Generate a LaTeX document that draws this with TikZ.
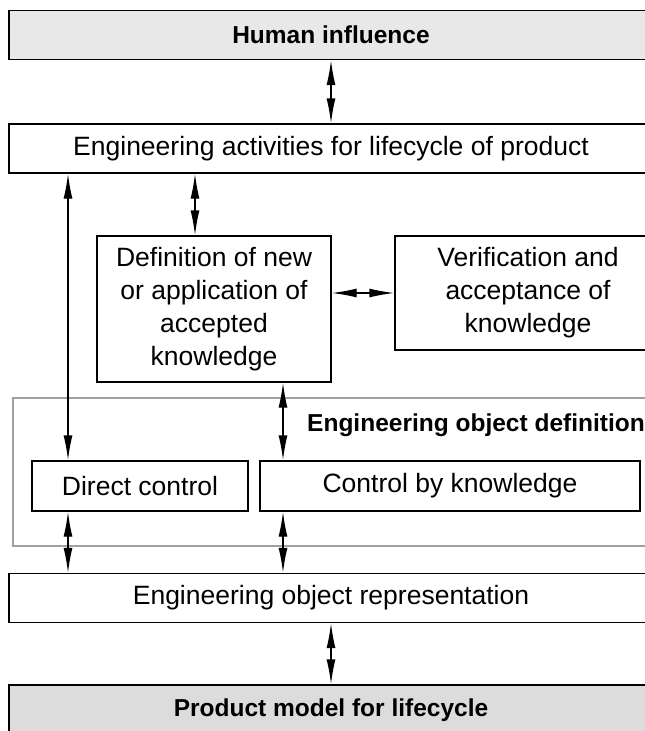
\documentclass[tikz,border=0pt]{standalone}
\usepackage{fontspec}
\setmainfont{Liberation Sans}
\usetikzlibrary{arrows.meta}
\definecolor{headfill}{HTML}{E8E8E8}
\definecolor{footfill}{HTML}{DCDCDC}
\definecolor{groupline}{HTML}{A0A0A0}
\begin{document}
\begin{tikzpicture}[x=1pt,y=-1pt,
  txt/.style={font=\fontsize{26.5}{33}\selectfont},
  boldtxt/.style={font=\bfseries\fontsize{24.5}{30}\selectfont},
  box/.style={draw=black, line width=1.4pt, inner sep=0pt, txt, align=center},
  band/.style={box, minimum width=644pt, minimum height=49pt},
  dbl/.style={draw=black, line width=1.4pt,
    {Latex[length=25pt,width=9pt]}-{Latex[length=25pt,width=9pt]}}
]
\useasboundingbox (0,0) rectangle (645,731);
\clip (0,0) rectangle (645,731);
\fill[white] (0,0) rectangle (645,731);

% outer group around the definition of the engineering object
\node[draw=groupline, line width=1.4pt, minimum width=657pt, minimum height=148pt,
      inner sep=0pt] (grp) at (341.5,472) {};
\node[boldtxt, anchor=west, inner sep=0pt] (grptitle) at (307,425) {Engineering object definition};

% bands
\node[band, fill=headfill, boldtxt] (human) at (331,35) {Human influence};
\node[band] (act) at (331,148.5) {Engineering activities for lifecycle of product};
\node[band] (rep) at (331,598) {Engineering object representation};
\node[band, fill=footfill, boldtxt, minimum height=50pt] (prod) at (331,710) {Product model for lifecycle};

% knowledge boxes
\node[box, minimum width=234pt, minimum height=146pt] (defn) at (214,309)
  {Definition of new\\or application of\\accepted\\knowledge};
\node[box, minimum width=266pt, minimum height=114pt] (verif) at (528,293)
  {Verification and\\acceptance of\\knowledge};

% control boxes
\node[box, minimum width=216pt, minimum height=50pt] (dc) at (140,486) {Direct control};
\node[box, minimum width=380pt, minimum height=50pt] (ck) at (450,486) {Control by knowledge};

% connector columns
\coordinate (c68) at (68,0);
\coordinate (c195) at (195,0);
\coordinate (c283) at (283,0);

% connectors
\draw[dbl] (human.south) -- (act.north);
\draw[dbl] (act.south -| c68) -- (dc.north -| c68);
\draw[dbl] (act.south -| c195) -- (defn.north -| c195);
\draw[dbl] (verif.west -| defn.east) -- (verif.west);
\draw[dbl] (defn.south -| c283) -- (ck.north -| c283);
\draw[dbl] (dc.south -| c68) -- (rep.north -| c68);
\draw[dbl] (ck.south -| c283) -- (rep.north -| c283);
\draw[dbl] (rep.south) -- (prod.north);
\end{tikzpicture}
\end{document}
